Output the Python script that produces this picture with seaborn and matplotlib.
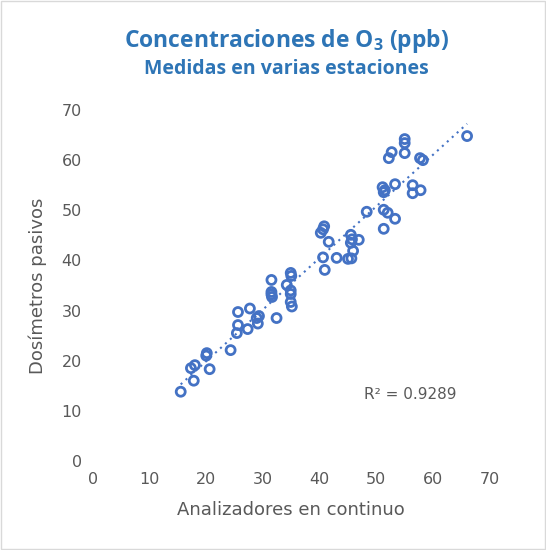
import numpy as np
import pandas as pd
import matplotlib
matplotlib.use("Agg")
import matplotlib.pyplot as plt
import seaborn as sns

analizadores = [15.5, 17.8, 17.3, 18.0, 20.1, 20.0, 20.6, 24.3, 25.6, 25.6, 25.4, 27.3, 27.7,
                28.9, 29.1, 29.3, 31.5, 31.5, 31.5, 31.6, 32.4, 34.2, 34.9, 35.0, 34.9, 34.9,
                34.9, 35.1, 40.2, 40.6, 40.8, 41.6, 40.6, 40.9, 43.0, 45.0, 45.6, 45.9, 45.5,
                45.7, 45.5, 46.9, 48.3, 51.3, 51.3, 52.0, 53.3, 51.1, 51.5, 51.3, 53.3, 56.4,
                56.4, 57.8, 52.2, 52.7, 55.0, 55.0, 55.0, 57.7, 58.2, 66.0]
dosimetros = [13.8, 16.0, 18.5, 19.1, 21.5, 21.0, 18.3, 22.1, 29.7, 27.1, 25.5, 26.3, 30.4,
              28.5, 27.4, 28.9, 36.1, 33.7, 33.2, 32.7, 28.5, 35.1, 37.5, 36.9, 34.0, 33.3,
              31.7, 30.8, 45.5, 46.2, 46.8, 43.7, 40.6, 38.1, 40.5, 40.3, 40.4, 41.9, 45.1,
              44.2, 43.5, 44.1, 49.7, 46.3, 50.1, 49.5, 48.3, 54.6, 54.0, 53.6, 55.2, 55.0,
              53.4, 54.0, 60.4, 61.6, 61.4, 63.4, 64.2, 60.4, 60.0, 64.8]
x_ticks = [0, 10, 20, 30, 40, 50, 60, 70]
y_ticks = [0, 10, 20, 30, 40, 50, 60, 70]

df = pd.DataFrame({"x": analizadores, "y": dosimetros})

plt.rcParams["mathtext.fontset"] = "custom"
plt.rcParams["mathtext.rm"] = "Open Sans:bold"
plt.rcParams["mathtext.it"] = "Open Sans:bold"
plt.rcParams["mathtext.bf"] = "Open Sans:bold"

blue = "#4472C4"
title_blue = "#2E75B6"
gray = "#595959"

fig = plt.figure(figsize=(5.46, 5.50), dpi=100)
ax = fig.add_axes([0.170, 0.162, 0.727, 0.638])

sns.scatterplot(data=df, x="x", y="y", ax=ax, marker="o", s=42,
                facecolor="none", edgecolor=blue, linewidth=2.0, zorder=3)

# linear trendline
m, b = np.polyfit(df["x"], df["y"], 1)
xs = np.array([df["x"].min(), df["x"].max()])
sns.lineplot(x=xs, y=m * xs + b, ax=ax, color=blue, linestyle=(0, (1, 2.2)),
             linewidth=1.5, zorder=2)

ax.set_xlim(0, 70)
ax.set_ylim(0, 70)
ax.set_xticks(x_ticks)
ax.set_yticks(y_ticks)
for s in ax.spines.values():
    s.set_visible(False)
ax.tick_params(length=0, labelsize=11.5, colors=gray, pad=8)
ax.set_xlabel("Analizadores en continuo", fontsize=13, color=gray, labelpad=10)
ax.set_ylabel("Dosímetros pasivos", fontsize=13, color=gray, labelpad=10)

ax.text(56, 13.2, "R² = 0.9289", fontsize=11, color=gray, ha="center", va="center")

fig.text(0.525, 0.925, "Concentraciones de O$_3$ (ppb)", fontsize=16.5, fontweight="bold",
         color=title_blue, ha="center", va="center", family="Open Sans")
fig.text(0.525, 0.874, "Medidas en varias estaciones", fontsize=14, fontweight="bold",
         color=title_blue, ha="center", va="center", family="Open Sans")

fig.patches.append(plt.Rectangle((0.001, 0.001), 0.998, 0.998, transform=fig.transFigure,
                                 fill=False, edgecolor="#D9D9D9", linewidth=1))

fig.savefig("out.png", dpi=100)
